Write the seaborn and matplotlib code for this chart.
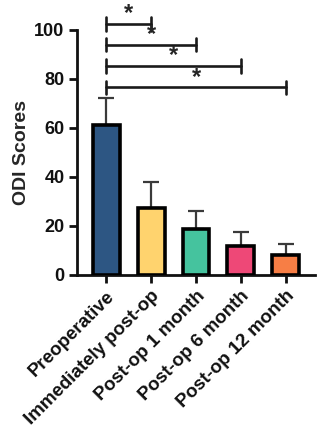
import matplotlib
matplotlib.use("Agg")
import matplotlib.pyplot as plt
import seaborn as sns
import pandas as pd

# ===== Data =====
groups = ['Preoperative', 'Immediately post-op', 'Post-op 1 month',
          'Post-op 6 month', 'Post-op 12 month']
odi_mean = [61.0, 27.3, 18.7, 11.8, 8.2]
odi_sd = [11.3, 10.7, 7.4, 5.6, 4.5]
colors = ['#2D5683', '#FFD36E', '#45C39E', '#EE4877', '#F77E45']

# significance brackets: (from, to, height)
sig_pairs = [(0, 1), (0, 2), (0, 3), (0, 4)]
sig_heights = [102.5, 94.0, 85.3, 76.5]

df = pd.DataFrame({'group': groups, 'odi': odi_mean})

sns.set_style('ticks')
plt.rcParams['font.family'] = ['Liberation Sans', 'DejaVu Sans']
plt.rcParams['font.weight'] = 'bold'

fig = plt.figure(figsize=(3.24, 4.33), dpi=100)
ax = fig.add_axes([0.238, 0.365, 0.734, 0.566])

sns.barplot(data=df, x='group', y='odi', hue='group', palette=colors,
            saturation=1, legend=False, width=0.6, edgecolor='black',
            linewidth=2.6, errorbar=None, ax=ax, zorder=3)

# Upper error bars only
ax.errorbar(range(len(groups)), odi_mean, yerr=[[0] * len(groups), odi_sd],
            fmt='none', ecolor='#3a3a3a', elinewidth=1.6, capsize=6,
            capthick=1.6, zorder=2)

# Significance brackets
for (a, b), h in zip(sig_pairs, sig_heights):
    ax.plot([a, b], [h, h], color='#1a1a1a', lw=1.9, clip_on=False)
    for xx in (a, b):
        ax.plot([xx, xx], [h - 2.8, h + 2.8], color='#1a1a1a', lw=1.9,
                clip_on=False)
    ax.text((a + b) / 2, h - 0.5, '*', ha='center', va='bottom',
            fontsize=17, fontweight='bold', clip_on=False)

ax.set_ylim(0, 100)
ax.set_xlim(-0.65, 4.65)
ax.set_yticks([0, 20, 40, 60, 80, 100])
ax.set_ylabel('ODI Scores', fontsize=14, fontweight='bold', labelpad=3)
ax.set_xlabel('')
ax.set_xticks(range(len(groups)))
ax.set_xticklabels(groups, rotation=45, ha='right', rotation_mode='anchor',
                   fontsize=13.5, fontweight='bold')
for lbl in ax.get_yticklabels():
    lbl.set_fontsize(13)
    lbl.set_fontweight('bold')

sns.despine(ax=ax)
for sp in ['left', 'bottom']:
    ax.spines[sp].set_linewidth(2)
    ax.spines[sp].set_color('#111111')
ax.tick_params(width=2, length=6, color='#111111', labelcolor='#111111',
               pad=3)

fig.savefig('out.png', dpi=100)
